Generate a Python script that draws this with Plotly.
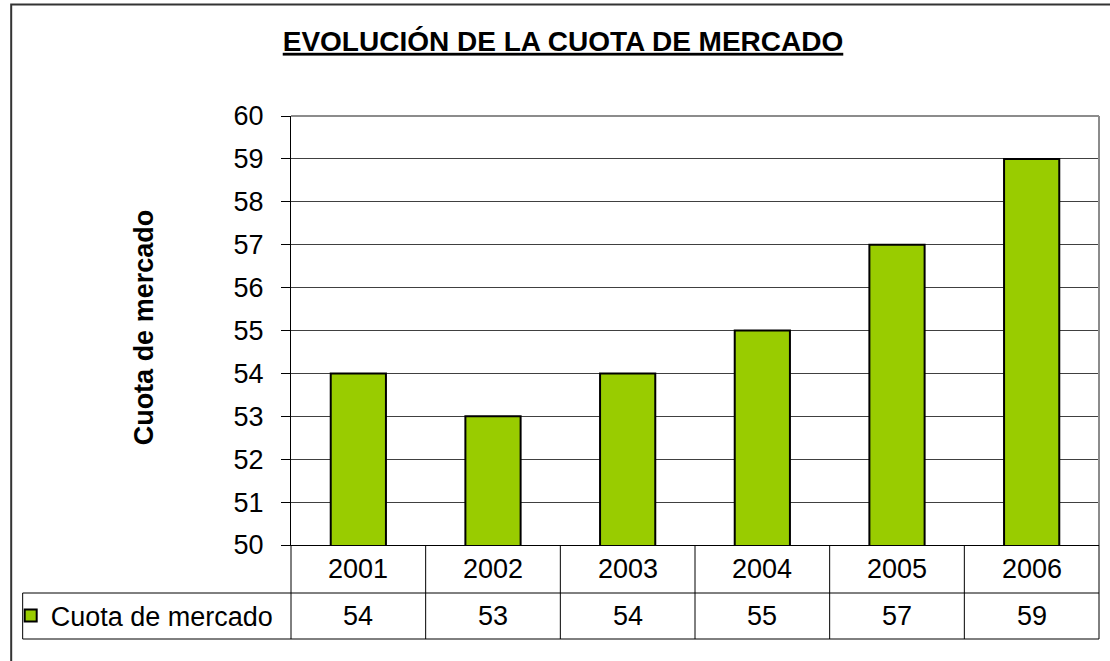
import plotly.graph_objects as go

# ---- data ----
years = ["2001", "2002", "2003", "2004", "2005", "2006"]
cuota = [54, 53, 54, 55, 57, 59]
series_name = "Cuota de mercado"
title_text = "EVOLUCIÓN DE LA CUOTA DE MERCADO"
y_title = "Cuota de mercado"

W, H = 1110, 661
PL, PR, PT, PB = 289, 1099, 116, 545  # plot area in px


def px_x(px):
    return (px - PL) / (PR - PL)


def px_y(py):
    return (PB - py) / (PB - PT)


FONT = "Liberation Sans, Arial, sans-serif"
GREEN = "#99CC00"
TXT = 27

fig = go.Figure()
fig.add_trace(go.Bar(
    x=years, y=cuota, name=series_name,
    marker=dict(color=GREEN, line=dict(color="#000000", width=2)),
    showlegend=True,
))

row1_bot = px_y(593)
row2_bot = px_y(639)
leg_left = px_x(20)
row1_mid = px_y(569)
row2_mid = px_y(616)

shapes = []
line_k = dict(color="#000000", width=1)
# table horizontal lines
shapes.append(dict(type="line", xref="paper", yref="paper", x0=leg_left, x1=1,
                   y0=row1_bot, y1=row1_bot, line=line_k))
shapes.append(dict(type="line", xref="paper", yref="paper", x0=leg_left, x1=1,
                   y0=row2_bot, y1=row2_bot, line=line_k))
# legend cell left border
shapes.append(dict(type="line", xref="paper", yref="paper", x0=leg_left, x1=leg_left,
                   y0=row1_bot, y1=row2_bot, line=line_k))
# axis line extension and right border of table
shapes.append(dict(type="line", xref="paper", yref="paper", x0=0, x1=0,
                   y0=0, y1=row2_bot, line=line_k))
shapes.append(dict(type="line", xref="paper", yref="paper", x0=1, x1=1,
                   y0=0, y1=row2_bot, line=line_k))
# column separators between categories
for i in range(len(years) - 1):
    shapes.append(dict(type="line", xref="x", yref="paper", x0=i + 0.5, x1=i + 0.5,
                       y0=0, y1=row2_bot, line=line_k))
# plot frame top/right (gray)
shapes.append(dict(type="line", xref="paper", yref="paper", x0=0, x1=1, y0=1, y1=1,
                   line=dict(color="#8c8c8c", width=2)))
shapes.append(dict(type="line", xref="paper", yref="paper", x0=1, x1=1, y0=0, y1=1,
                   line=dict(color="#8c8c8c", width=2)))
# outer chart border
shapes.append(dict(type="rect", xref="paper", yref="paper",
                   x0=px_x(8.5), x1=px_x(1130), y0=px_y(4.5), y1=px_y(700),
                   line=dict(color="#333333", width=2), fillcolor="rgba(0,0,0,0)",
                   layer="below"))

annotations = []
for i, (yr, v) in enumerate(zip(years, cuota)):
    annotations.append(dict(x=i, xref="x", y=row1_mid, yref="paper", text=yr,
                            showarrow=False, xanchor="center", yanchor="middle",
                            font=dict(family=FONT, size=TXT, color="#000")))
    annotations.append(dict(x=i, xref="x", y=row2_mid, yref="paper", text=str(v),
                            showarrow=False, xanchor="center", yanchor="middle",
                            font=dict(family=FONT, size=TXT, color="#000")))
annotations.append(dict(x=px_x(142), xref="paper", y=px_y(327), yref="paper",
                        text="<b>" + y_title + "</b>", textangle=-90, showarrow=False,
                        xanchor="center", yanchor="middle",
                        font=dict(family=FONT, size=27, color="#000")))

fig.update_layout(
    width=W, height=H, autosize=False,
    margin=dict(l=PL, r=W - PR, t=PT, b=H - PB, pad=0),
    paper_bgcolor="#ffffff", plot_bgcolor="#ffffff",
    title=dict(text="<b><u>" + title_text + "</u></b>", xref="container", yref="container",
               x=563 / W, y=1 - 41 / H, xanchor="center", yanchor="middle",
               font=dict(family=FONT, size=28, color="#000")),
    bargap=0.59,
    xaxis=dict(type="category", range=[-0.5, len(years) - 0.5], showticklabels=False,
               ticks="", showgrid=False, showline=True, linecolor="#000", linewidth=1,
               zeroline=False, fixedrange=True),
    yaxis=dict(range=[50, 60], dtick=1, tick0=50, showgrid=True, gridcolor="#404040",
               gridwidth=1, ticks="outside", ticklen=9, tickcolor="#000", tickwidth=1,
               showline=True, linecolor="#000", linewidth=1, zeroline=False,
               ticklabelstandoff=12,
               tickfont=dict(family=FONT, size=TXT, color="#000")),
    legend=dict(x=px_x(8), y=row2_mid, xref="paper", yref="paper", xanchor="left",
                yanchor="middle", bgcolor="rgba(0,0,0,0)", borderwidth=0,
                font=dict(family=FONT, size=TXT, color="#000"), itemsizing="constant"),
    shapes=shapes, annotations=annotations,
    showlegend=True,
)

fig.write_html("out.html", config={"displayModeBar": False},
               post_script="document.body.style.margin='0';")
